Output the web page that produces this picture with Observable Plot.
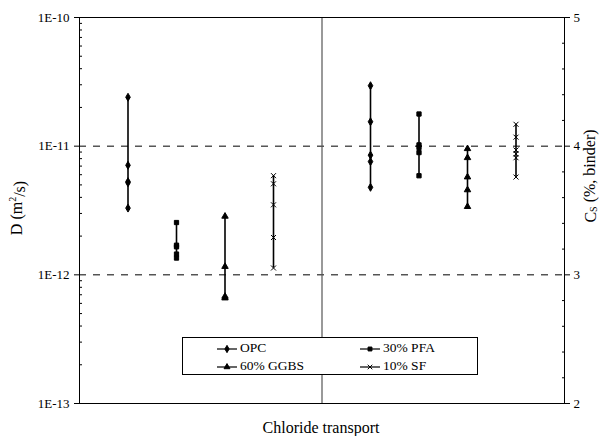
<!DOCTYPE html>
<html><head><meta charset="utf-8">
<script src="https://cdn.jsdelivr.net/npm/d3@7"></script>
<script src="https://cdn.jsdelivr.net/npm/@observablehq/plot@0.6"></script>
<style>body{margin:0;background:#fff;} #chart svg{display:block;} #chart svg text{font-family:"Liberation Serif","Times New Roman",Times,serif !important;}</style>
</head><body><div id="chart"></div>
<script>
const groups = ["OPC", "30% PFA", "60% GGBS", "10% SF"];
const symbolNames = ["diamond", "square", "triangle", "times"];
// Diffusion coefficient D (m²/s) — left half
const dOPC = [2.4e-11, 7.1e-12, 5.3e-12, 5.2e-12, 3.3e-12];
const dPFA = [2.55e-12, 1.7e-12, 1.65e-12, 1.45e-12, 1.35e-12];
const dGGBS = [2.85e-12, 1.16e-12, 6.8e-13, 6.6e-13];
const dSF = [5.9e-12, 5.1e-12, 3.5e-12, 1.95e-12, 1.13e-12];
// Surface chloride Cs (%, binder) — right half
const csOPC = [4.47, 4.19, 3.93, 3.88, 3.68];
const csPFA = [4.25, 4.01, 3.99, 3.95, 3.77];
const csGGBS = [3.98, 3.91, 3.76, 3.66, 3.53];
const csSF = [4.17, 4.07, 3.97, 3.94, 3.91, 3.76];
// Axis ticks
const dTicks = [1e-13, 1e-12, 1e-11, 1e-10];
const csTicks = [2, 3, 4, 5];
const xLabel = "Chloride transport";

const dDomain = [1e-13, 1e-10];
const csDomain = [2, 5];
// map Cs (linear right axis) onto the log left scale
const lo = Math.log10(dDomain[0]), hi = Math.log10(dDomain[1]);
const csToD = c => 10 ** (lo + (c - csDomain[0]) / (csDomain[1] - csDomain[0]) * (hi - lo));

const dSets = [dOPC, dPFA, dGGBS, dSF];
const csSets = [csOPC, csPFA, csGGBS, csSF];
const rows = [], ranges = [];
groups.forEach((g, i) => {
  const pL = i + 1, pR = i + 6;
  dSets[i].forEach(v => rows.push({group: g, pos: pL, v}));
  csSets[i].forEach(c => rows.push({group: g, pos: pR, v: csToD(c)}));
  const [a, b] = d3.extent(dSets[i]);
  ranges.push({pos: pL, lo: a, hi: b});
  const [c1, c2] = d3.extent(csSets[i]);
  ranges.push({pos: pR, lo: csToD(c1), hi: csToD(c2)});
});

const minorD = [];
for (let e = -13; e < -10; e++) for (let k = 2; k <= 9; k++) minorD.push(k * 10 ** e);
const minorCs = [];
for (let c = 2; c < 5; c++) for (let k = 1; k <= 4; k++) minorCs.push(c + k * 0.2);

const font = '"Liberation Serif", "Times New Roman", Times, serif';
const chart = Plot.plot({
  width: 607, height: 436,
  marginLeft: 79, marginRight: 43, marginTop: 17, marginBottom: 33,
  style: {fontFamily: font, fontSize: "13px", color: "#000", background: "#fff"},
  x: {domain: [0, 10], axis: null},
  y: {type: "log", domain: dDomain, axis: null},
  symbol: {domain: groups, range: symbolNames},
  marks: [
    Plot.ruleY([1e-12, 1e-11], {stroke: "#000", strokeDasharray: "7,7", strokeWidth: 1}),
    Plot.ruleX([5], {stroke: "#555", strokeWidth: 1.2}),
    Plot.frame({stroke: "#000"}),
    Plot.axisY(dTicks, {anchor: "left", tickSize: 5, tickPadding: 5, fontSize: 13,
      tickFormat: d => "1E" + Math.round(Math.log10(d)), label: null}),
    Plot.axisY(minorD, {anchor: "left", tickSize: -3, tickFormat: () => "", label: null}),
    Plot.axisY(csTicks.map(csToD), {anchor: "right", tickSize: 5, tickPadding: 4, fontSize: 13,
      tickFormat: d => String(Math.round(csDomain[0] + (Math.log10(d) - lo) / (hi - lo) * (csDomain[1] - csDomain[0]))), label: null}),
    Plot.axisY(minorCs.map(csToD), {anchor: "right", tickSize: -3, tickFormat: () => "", label: null}),
    Plot.ruleX(ranges, {x: "pos", y1: "lo", y2: "hi", stroke: "#000", strokeWidth: 1.6}),
    Plot.dot(rows, {x: "pos", y: "v", symbol: "group", fill: "#000", stroke: "#000", strokeWidth: 1, r: 2.4})
  ]
});
document.getElementById("chart").append(chart);

const svg = d3.select(chart);
// left axis label
const tl = svg.append("text").attr("transform", "translate(18,208) rotate(-90)")
  .attr("text-anchor", "middle").attr("dominant-baseline", "middle")
  .style("font-size", "16px").attr("fill", "#000");
tl.append("tspan").text("D (m");
tl.append("tspan").text("2").attr("dy", "-0.45em").style("font-size", "10px");
tl.append("tspan").text("/s)").attr("dy", "0.45em");
// right axis label
const tr = svg.append("text").attr("transform", "translate(592,176) rotate(-90)")
  .attr("text-anchor", "middle").attr("dominant-baseline", "middle")
  .style("font-size", "16px").attr("fill", "#000");
tr.append("tspan").text("C");
tr.append("tspan").text("S").attr("dy", "0.25em").style("font-size", "10px");
tr.append("tspan").text(" (%, binder)").attr("dy", "-0.25em");
// x label
svg.append("text").attr("x", 321).attr("y", 433).attr("text-anchor", "middle")
  .style("font-size", "16px").attr("fill", "#000").text(xLabel);

// legend
const lg = svg.append("g");
lg.append("rect").attr("x", 182.5).attr("y", 337.5).attr("width", 295).attr("height", 37)
  .attr("fill", "#fff").attr("stroke", "#000");
const d3sym = {diamond: d3.symbolDiamond, square: d3.symbolSquare, triangle: d3.symbolTriangle, times: d3.symbolTimes};
groups.forEach((g, i) => {
  const col = i % 2, row = Math.floor(i / 2);
  const x0 = col ? 360 : 217, y0 = row ? 367 : 349;
  lg.append("line").attr("x1", x0).attr("x2", x0 + 20).attr("y1", y0).attr("y2", y0)
    .attr("stroke", "#000").attr("stroke-width", 1.2);
  const name = symbolNames[i];
  lg.append("path").attr("d", d3.symbol(d3sym[name], 2.2 * 2.2 * Math.PI)())
    .attr("transform", `translate(${x0 + 10},${y0})`)
    .attr("fill", name === "times" ? "none" : "#000").attr("stroke", "#000");
  lg.append("text").attr("x", x0 + 23).attr("y", y0).attr("text-anchor", "start")
    .attr("dominant-baseline", "middle")
    .style("font-size", "13.5px").attr("fill", "#000").text(g);
});
</script>
</body></html>
